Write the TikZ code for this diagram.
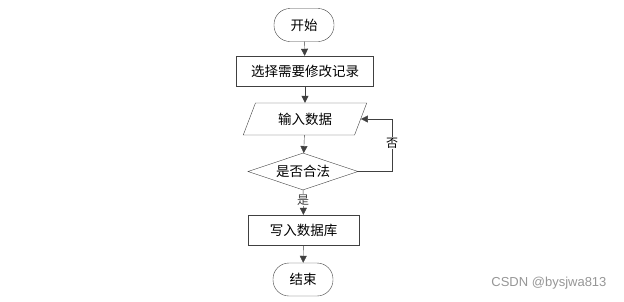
\documentclass[tikz,border=0pt]{standalone}
\usepackage{fontspec}
\newfontfamily\cjk{Noto Sans CJK SC}
\newfontfamily\wmfont{Liberation Sans}
\definecolor{lineg}{RGB}{64,64,64}
\definecolor{markg}{RGB}{150,150,150}
\usepackage{tikz}
\usetikzlibrary{shapes.geometric,arrows.meta,positioning}

\begin{document}
\begin{tikzpicture}[x=1pt,y=-1pt,
			term/.style={draw=lineg, rounded corners=16pt, minimum width=60pt,
				minimum height=33pt, font=\cjk\fontsize{13.5}{16}\selectfont},
			proc/.style={draw=lineg, minimum width=137pt, minimum height=30pt,
				font=\cjk\fontsize{13.5}{16}\selectfont},
			io/.style={draw=lineg, trapezium, trapezium left angle=62,
				trapezium right angle=118, trapezium stretches=true,
				minimum width=124pt, minimum height=32pt, inner sep=0pt,
				font=\cjk\fontsize{13.5}{16}\selectfont},
			cond/.style={draw=lineg, diamond, aspect=3, minimum width=110pt, minimum height=37pt,
				inner sep=0pt, font=\cjk\fontsize{13.5}{16}\selectfont},
			arrow/.style={-{Triangle[length=7pt,width=7pt]}, lineg},
			lab/.style={font=\cjk\fontsize{12}{14}\selectfont, fill=white, inner sep=1pt}
		]
			\useasboundingbox (0,0) rectangle (624,301);
			\node[term] (start) at (304,25) {开始};
			\node[proc] (pick) at (305,71) {选择需要修改记录};
			\node[io] (input) at (305,119) {输入数据};
			\node[cond] (check) at (303,171.5) {是否合法};
			\node[proc, minimum width=111pt] (save) at (303.5,230) {写入数据库};
			\node[term] (stop) at (303,279.5) {结束};
			\coordinate (turn) at (392,171.5);
			\draw[arrow] (start) -- (pick);
			\draw[arrow] (pick) -- (input);
			\draw[arrow] (input) -- (check);
			\draw[arrow] (check) -- node[lab, pos=0.4] {是} (save);
			\draw[arrow] (check.east) -- (turn) |- (input.east);
			\node[lab] (no) at (392,143) {否};
			\draw[arrow] (save) -- (stop);
			\node[font=\wmfont\fontsize{13}{15}\selectfont, text=markg, anchor=east] (mark) at (610,283) {CSDN @bysjwa813};
		\end{tikzpicture}
\end{document}
